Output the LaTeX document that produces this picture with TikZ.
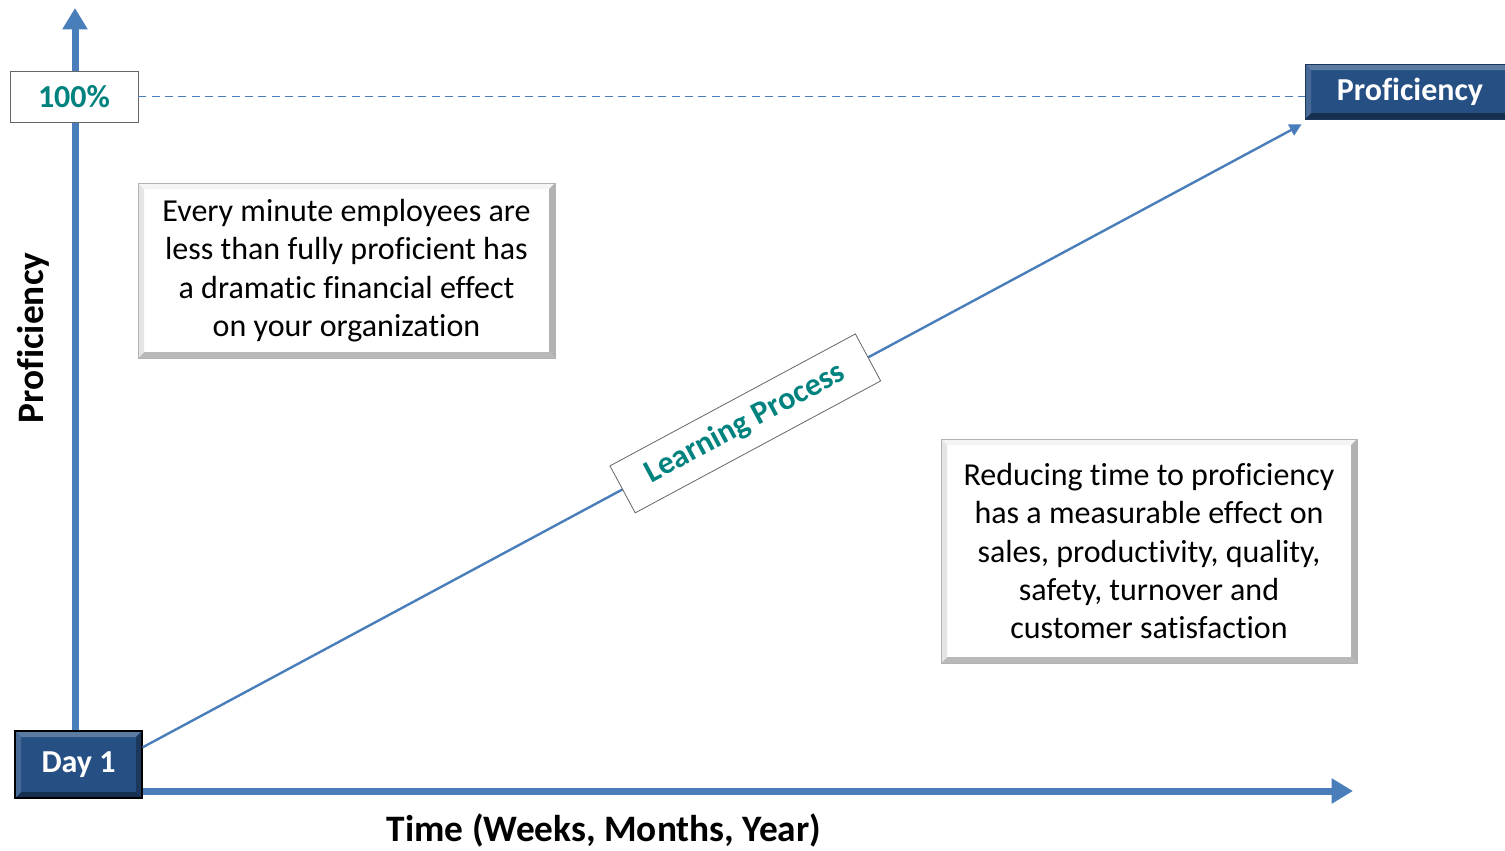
\documentclass[tikz,border=0pt]{standalone}
\usepackage{fontspec}
\setmainfont{Carlito}[Ligatures=NoCommon]
\usetikzlibrary{arrows.meta}

\definecolor{axisblue}{HTML}{4A7EBB}
\definecolor{tealtext}{HTML}{00827F}
\definecolor{boxblue}{HTML}{264F84}

% bevel: top, bottom, left, right colour
\newcommand\bevelparts[4]{%
  \fill[#1] (path picture bounding box.north west) -- (path picture bounding box.north east)
    -- ([shift={(-4.5pt,-4.5pt)}]path picture bounding box.north east) -- ([shift={(4.5pt,-4.5pt)}]path picture bounding box.north west) -- cycle;
  \fill[#2] (path picture bounding box.south west) -- (path picture bounding box.south east)
    -- ([shift={(-4.5pt,4.5pt)}]path picture bounding box.south east) -- ([shift={(4.5pt,4.5pt)}]path picture bounding box.south west) -- cycle;
  \fill[#3] (path picture bounding box.north west) -- (path picture bounding box.south west)
    -- ([shift={(4.5pt,4.5pt)}]path picture bounding box.south west) -- ([shift={(4.5pt,-4.5pt)}]path picture bounding box.north west) -- cycle;
  \fill[#4] (path picture bounding box.north east) -- (path picture bounding box.south east)
    -- ([shift={(-4.5pt,4.5pt)}]path picture bounding box.south east) -- ([shift={(-4.5pt,-4.5pt)}]path picture bounding box.north east) -- cycle;
}

\tikzset{
  axis/.style={axisblue, line width=5.25pt, -{Triangle[width=18pt,length=16pt]}},
  notebox/.style={fill=white, draw=gray!60, line width=0.6pt, inner sep=0pt, align=center,
    font=\fontsize{24}{28.7}\selectfont,
    path picture={\bevelparts{gray!8}{gray!55}{gray!20}{gray!60}}},
  bluebox/.style={fill=boxblue, inner sep=0pt, text=white, font=\fontsize{24}{28}\selectfont\bfseries,
    path picture={\bevelparts{boxblue!75!white}{boxblue!60!black}{boxblue!85!white}{boxblue!70!black}}},
  tagbox/.style={fill=white, draw=gray!80!black, line width=0.6pt, inner sep=0pt, text=tealtext,
    font=\fontsize{24}{28}\selectfont\bfseries},
  axislabel/.style={font=\fontsize{28}{32}\selectfont\bfseries}
}

\begin{document}
\begin{tikzpicture}[x=0.75pt, y=-0.75pt]
\useasboundingbox (0,0) rectangle (1505,850);

\node[bluebox, draw=black, line width=1pt, minimum width=95.25pt, minimum height=50.25pt] (dayone) at (78.5,764.5) {Day 1};
\node[bluebox, draw=boxblue!70!black, line width=0.6pt, minimum width=157.5pt, minimum height=41.25pt] (prof) at (1410,91.5) {Proficiency};

\coordinate (ytop) at (75,8);
\coordinate (xend) at (1353,791);

% axes
\draw[axis] (dayone.north -| ytop) -- (ytop);
\draw[axis] (dayone.east |- xend) -- (xend);

\node[tagbox, minimum width=96pt, minimum height=38.25pt] (pct) at (74,96.5) {100\%};

\node[notebox, minimum width=312.75pt, minimum height=131.25pt] (note1) at (346.5,270.5)
  {Every minute employees are\\less than fully proficient has\\a dramatic financial effect\\on your organization};
\node[notebox, minimum width=312pt, minimum height=168pt] (note2) at (1149,551)
  {Reducing time to proficiency\\has a measurable effect on\\sales, productivity, quality,\\safety, turnover and\\customer satisfaction};

\node[axislabel, rotate=90] (ylabel) at (33,338) {Proficiency};
\node[axislabel] (xlabel) at (604,830) {Time (Weeks, Months, Year)};

\draw[axisblue, line width=1.1pt, dash pattern=on 6pt off 4pt] (pct.east) -- (pct.east -| prof.west);

% learning curve
\draw[axisblue, line width=1.8pt, -{Triangle[width=9pt,length=9pt]}] (dayone.15) -- ([shift={(-2.25pt,-3.75pt)}]prof.south west)
  node[tagbox, pos=0.52, sloped, minimum width=209pt, minimum height=40pt] (learn) {Learning Process};
\end{tikzpicture}
\end{document}
